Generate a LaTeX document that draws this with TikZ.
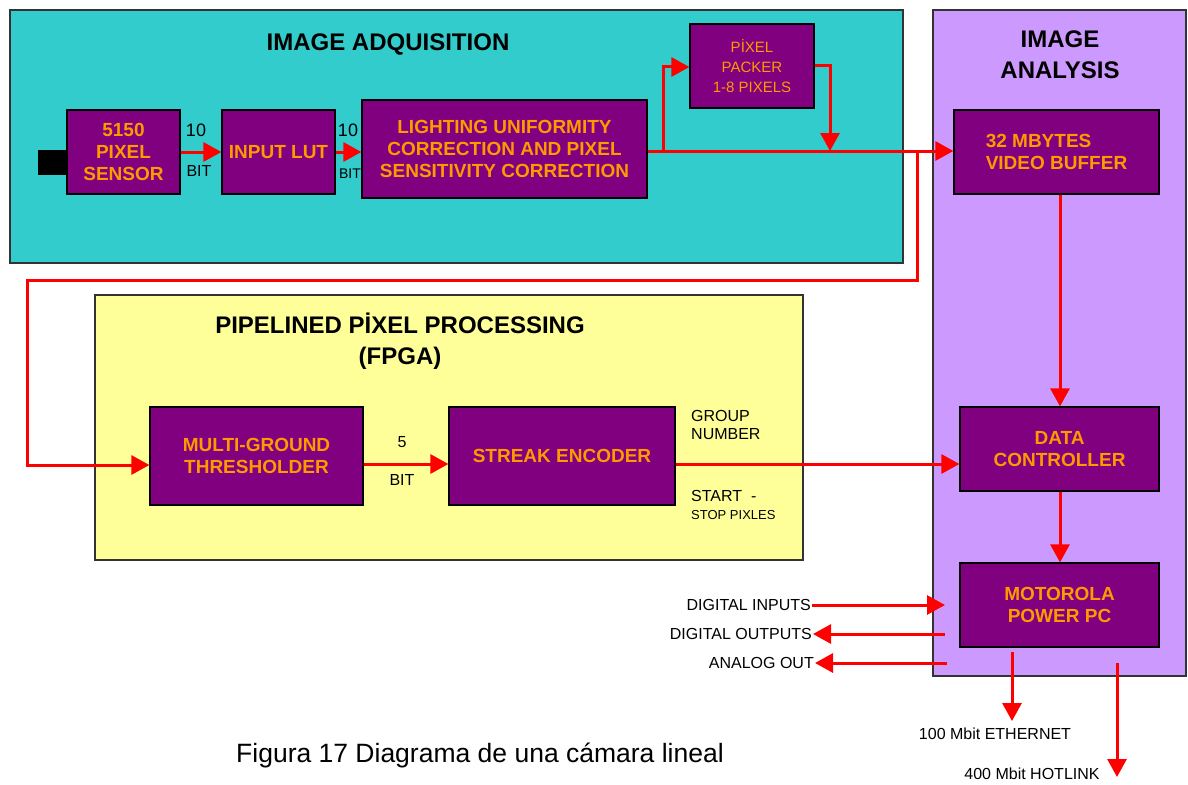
\documentclass[tikz,border=0pt]{standalone}
\usepackage{fontspec}
\setmainfont{Liberation Sans}
\usetikzlibrary{arrows.meta}
\definecolor{acqbg}{HTML}{33CCCC}
\definecolor{anabg}{HTML}{CC99FF}
\definecolor{pipebg}{HTML}{FFFF99}
\definecolor{blockfill}{HTML}{800080}
\definecolor{blocktext}{HTML}{FF9900}
\definecolor{wire}{HTML}{FF0000}
\tikzset{
  panel/.style={draw=black!80, line width=1.2pt},
  block/.style={draw=black, line width=1.2pt, fill=blockfill, text=blocktext,
    font=\bfseries\fontsize{19}{22}\selectfont, align=center, inner sep=0pt},
  paneltitle/.style={font=\bfseries\fontsize{24}{31}\selectfont, align=center},
  lbl/.style={font=\fontsize{16}{18}\selectfont, inner sep=1pt},
  flow/.style={draw=wire, line width=3pt, -{Triangle[length=18pt,width=19pt]}},
}
\begin{document}
\begin{tikzpicture}[x=1pt,y=-1pt]
\useasboundingbox (0,0) rectangle (1188,784);
% background panels
\path[panel, fill=acqbg] (10,10) rectangle (903,263);
\path[panel, fill=anabg] (933,10) rectangle (1186,676);
\path[panel, fill=pipebg] (95,295) rectangle (803,560);
% panel titles
\node[paneltitle] (tacq) at (388,44) {IMAGE ADQUISITION};
\node[paneltitle] (tana) at (1060,55) {IMAGE\\ANALYSIS};
\node[paneltitle] (tpipe) at (400,341) {PIPELINED PİXEL PROCESSING\\(FPGA)};
% image acquisition blocks
\fill[black] (38,150) rectangle (67,175);
\node[block, minimum width=113pt, minimum height=84pt] (sensor) at (123.5,152) {5150\\PIXEL\\SENSOR};
\node[block, minimum width=113pt, minimum height=84pt] (lut) at (278.5,152) {INPUT LUT};
\node[block, minimum width=285pt, minimum height=98pt] (light) at (504.5,149) {LIGHTING UNIFORMITY\\CORRECTION AND PIXEL\\SENSITIVITY CORRECTION};
\node[block, font=\fontsize{15}{20}\selectfont, minimum width=124pt, minimum height=84pt] (packer) at (752,66) {PİXEL\\PACKER\\1-8 PIXELS};
% image analysis blocks
\node[block, minimum width=205pt, minimum height=84pt, align=left] (buffer) at (1056.5,152) {32 MBYTES\\VIDEO BUFFER};
\node[block, minimum width=199pt, minimum height=84pt] (dctl) at (1059.5,449) {DATA\\CONTROLLER};
\node[block, minimum width=199pt, minimum height=84pt] (ppc) at (1059.5,605) {MOTOROLA\\POWER PC};
% pipelined processing blocks
\node[block, minimum width=213pt, minimum height=98pt] (thr) at (256.5,456) {MULTI-GROUND\\THRESHOLDER};
\node[block, minimum width=226pt, minimum height=98pt] (streak) at (562,456) {STREAK ENCODER};
% routing points
\coordinate (c1) at (663,151);
\coordinate (c2) at (663,67);
\coordinate (c3) at (830,66);
\coordinate (c4) at (830,151);
\coordinate (c5) at (917,151);
\coordinate (c6) at (917,280);
\coordinate (c7) at (27,280);
\coordinate (c8) at (27,465);
% acquisition data path
\draw[flow] (sensor.east |- 0,152) -- (lut.west |- 0,152);
\draw[flow] (lut.east |- 0,152) -- (light.west |- 0,152);
\draw[flow] (light.east |- 0,151) -- (buffer.west |- 0,151);
\draw[flow] (c1) -- (c2) -- (packer.west |- c2);
\draw[flow] (packer.east |- c3) -- (c3) -- (c4);
\draw[flow] (c5) -- (c6) -- (c7) -- (c8) -- (thr.west |- c8);
% pipeline path
\draw[flow] (thr.east |- 0,464) -- (streak.west |- 0,464);
\draw[flow] (streak.east |- 0,464) -- (dctl.west |- 0,464);
% analysis path
\draw[flow] (buffer.south -| 1060,0) -- (dctl.north -| 1060,0);
\draw[flow] (dctl.south -| 1060,0) -- (ppc.north -| 1060,0);
% bit-width labels
\node[lbl, font=\fontsize{18}{20}\selectfont] (b1a) at (196,130) {10};
\node[lbl] (b1b) at (199,171) {BIT};
\node[lbl, font=\fontsize{18}{20}\selectfont] (b2a) at (348,130) {10};
\node[lbl, font=\fontsize{14}{16}\selectfont] (b2b) at (350,174) {BIT};
\node[lbl] (b3a) at (402,442) {5};
\node[lbl] (b3b) at (402,480) {BIT};
\node[lbl, anchor=west, align=left] (grp) at (690,425) {GROUP\\NUMBER};
\node[lbl, anchor=west, align=left] (ssp) at (690,505) {START\ \ -\\{\fontsize{13}{16}\selectfont STOP PIXLES}};
% external I/O
\coordinate (pin) at (945,605);
\coordinate (pout) at (945,634);
\coordinate (paout) at (947,663);
\node[lbl, anchor=east] (din) at (812,605) {DIGITAL INPUTS};
\node[lbl, anchor=east] (dout) at (813,634) {DIGITAL OUTPUTS};
\node[lbl, anchor=east] (aout) at (815,663) {ANALOG OUT};
\draw[flow] (din.east) -- (pin);
\draw[flow] (pout) -- (dout.east);
\draw[flow] (paout) -- (aout.east);
\coordinate (eth0) at (1012,652);
\coordinate (eth1) at (1012,721);
\coordinate (hot0) at (1117,663);
\coordinate (hot1) at (1117,777);
\node[lbl] (eth) at (995,734) {100 Mbit ETHERNET};
\node[lbl] (hot) at (1032,774) {400 Mbit HOTLINK};
\draw[flow] (eth0) -- (eth1);
\draw[flow] (hot0) -- (hot1);
% caption
\node[font=\fontsize{26.5}{30}\selectfont] (cap) at (480,755) {Figura 17 Diagrama de una cámara lineal};
\end{tikzpicture}
\end{document}
